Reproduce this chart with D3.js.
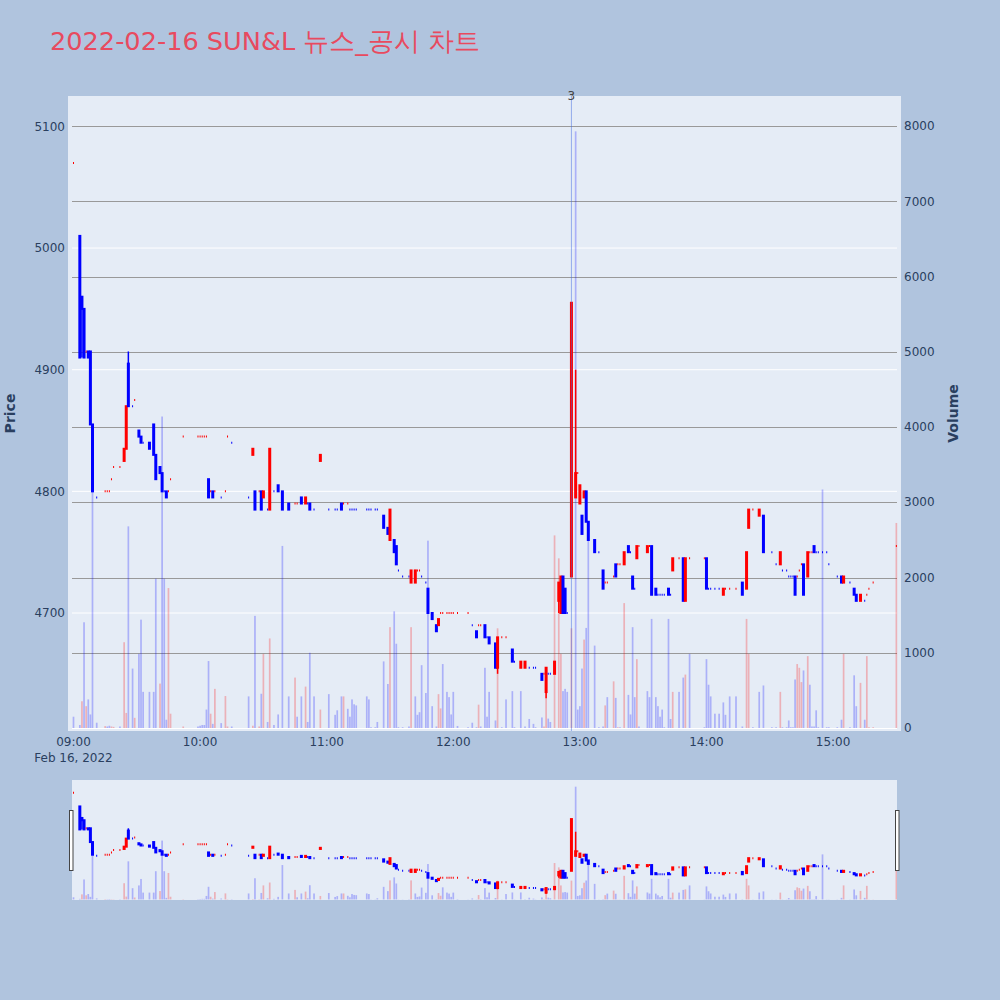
<!DOCTYPE html>
<html><head><meta charset="utf-8">
<script src="https://cdn.jsdelivr.net/npm/d3@7"></script>
<style>body{margin:0;background:#b0c4de;} svg{display:block;}</style>
</head><body><svg id="chart" width="1000" height="1000"></svg>
<script>
const chartTitle = "2022-02-16 SUN&L 뉴스_공시 차트";
const times = [
"09:00","09:03","09:04","09:05","09:06","09:07","09:08","09:09","09:11","09:15",
"09:16","09:17","09:18","09:19","09:22","09:24","09:25","09:26","09:28","09:29",
"09:31","09:32","09:33","09:36","09:38","09:39","09:41","09:42","09:43","09:44",
"09:45","09:46","09:52","09:59","10:00","10:01","10:02","10:03","10:04","10:05",
"10:06","10:07","10:10","10:12","10:13","10:15","10:23","10:25","10:26","10:28",
"10:29","10:30","10:32","10:33","10:35","10:37","10:39","10:42","10:45","10:46",
"10:48","10:50","10:51","10:52","10:54","10:57","11:01","11:04","11:05","11:07",
"11:08","11:10","11:11","11:12","11:13","11:14","11:19","11:20","11:21","11:23",
"11:24","11:27","11:29","11:30","11:32","11:33","11:34","11:36","11:39","11:40",
"11:42","11:43","11:44","11:45","11:47","11:48","11:50","11:52","11:53","11:54",
"11:55","11:57","11:58","11:59","12:00","12:02","12:07","12:09","12:11","12:12",
"12:13","12:15","12:16","12:17","12:20","12:21","12:23","12:25","12:28","12:29",
"12:32","12:34","12:36","12:38","12:39","12:42","12:43","12:44","12:45","12:46",
"12:48","12:50","12:51","12:52","12:53","12:54","12:56","12:58","12:59","13:00",
"13:01","13:02","13:03","13:04","13:07","13:09","13:11","13:12","13:13","13:16",
"13:17","13:18","13:19","13:21","13:23","13:24","13:25","13:26","13:27","13:28",
"13:32","13:33","13:34","13:36","13:37","13:38","13:39","13:40","13:42","13:43",
"13:44","13:47","13:49","13:50","13:52","13:59","14:00","14:01","14:02","14:04",
"14:06","14:08","14:09","14:11","14:14","14:17","14:19","14:20","14:22","14:25",
"14:27","14:31","14:33","14:35","14:36","14:38","14:39","14:40","14:41","14:42",
"14:43","14:44","14:45","14:46","14:48","14:49","14:50","14:51","14:52","14:53",
"14:55","14:57","14:58","15:02","15:04","15:05","15:08","15:10","15:11","15:13",
"15:15","15:16","15:17","15:19","15:30"];
const opens = [
5070,5010,4960,4950,4915,4915,4915,4855,4795,4800,
4800,4800,4810,4820,4820,4825,4835,4905,4870,4875,
4850,4845,4840,4840,4855,4830,4820,4815,4800,4800,
4800,4810,4845,4845,4845,4845,4845,4845,4810,4800,
4800,4800,4795,4800,4845,4840,4795,4830,4800,4800,
4800,4795,4785,4785,4800,4805,4800,4790,4790,4790,
4795,4790,4790,4790,4785,4825,4785,4785,4785,4790,
4790,4790,4785,4785,4785,4785,4785,4785,4785,4785,
4785,4780,4770,4760,4760,4755,4735,4730,4730,4725,
4725,4735,4735,4730,4725,4720,4700,4690,4690,4700,
4700,4700,4700,4700,4700,4700,4700,4690,4685,4690,
4690,4690,4680,4680,4675,4655,4680,4680,4670,4660,
4655,4655,4655,4655,4655,4650,4650,4635,4650,4650,
4650,4710,4700,4730,4720,4700,4730,4795,4815,4790,
4780,4795,4800,4775,4760,4750,4735,4725,4725,4730,
4740,4740,4740,4740,4755,4750,4730,4720,4745,4755,
4750,4755,4755,4720,4715,4715,4715,4715,4720,4715,
4735,4745,4745,4710,4745,4745,4745,4720,4720,4720,
4720,4715,4720,4720,4720,4725,4720,4770,4785,4780,
4780,4750,4740,4740,4735,4735,4730,4730,4730,4730,
4730,4735,4740,4740,4730,4750,4750,4755,4750,4750,
4750,4750,4740,4730,4730,4725,4725,4720,4715,4710,
4710,4715,4720,4725,4755];
const highs = [
5070,5010,4960,4950,4915,4915,4915,4855,4795,4800,
4800,4800,4810,4820,4820,4835,4870,4915,4870,4875,
4850,4845,4840,4840,4855,4830,4820,4815,4800,4800,
4800,4810,4845,4845,4845,4845,4845,4845,4810,4800,
4800,4800,4795,4800,4845,4840,4795,4835,4800,4800,
4800,4800,4785,4835,4800,4805,4800,4790,4790,4790,
4795,4795,4790,4790,4785,4830,4785,4785,4785,4790,
4790,4790,4785,4785,4785,4785,4785,4785,4785,4785,
4785,4780,4770,4785,4760,4755,4735,4730,4730,4735,
4735,4735,4735,4730,4725,4720,4700,4690,4695,4700,
4700,4700,4700,4700,4700,4700,4700,4690,4685,4690,
4690,4690,4680,4680,4675,4680,4680,4680,4670,4660,
4660,4660,4655,4655,4655,4650,4650,4655,4650,4650,
4660,4725,4730,4730,4720,4700,4955,4900,4815,4805,
4780,4800,4800,4775,4760,4750,4735,4725,4725,4730,
4740,4740,4740,4750,4755,4750,4730,4720,4755,4755,
4755,4755,4755,4720,4715,4715,4715,4715,4720,4715,
4745,4745,4745,4745,4745,4745,4745,4720,4720,4720,
4720,4720,4720,4720,4720,4725,4750,4785,4785,4785,
4780,4750,4740,4750,4735,4735,4730,4730,4730,4730,
4730,4735,4740,4740,4750,4750,4750,4755,4750,4750,
4750,4750,4740,4730,4730,4730,4725,4720,4715,4715,
4710,4715,4720,4725,4755];
const lows = [
5070,4910,4910,4910,4915,4910,4855,4800,4795,4800,
4800,4800,4810,4820,4820,4825,4835,4870,4870,4875,
4845,4840,4840,4835,4830,4810,4815,4800,4800,4795,
4800,4810,4845,4845,4845,4845,4845,4845,4795,4800,
4795,4800,4795,4800,4845,4840,4795,4830,4785,4800,
4785,4795,4785,4785,4800,4800,4785,4785,4790,4790,
4790,4790,4790,4785,4785,4825,4785,4785,4785,4785,
4790,4790,4785,4785,4785,4785,4785,4785,4785,4785,
4785,4770,4765,4760,4750,4740,4735,4730,4730,4725,
4725,4735,4735,4730,4725,4700,4695,4685,4690,4700,
4700,4700,4700,4700,4700,4700,4700,4690,4680,4690,
4690,4680,4680,4675,4655,4650,4680,4680,4660,4660,
4655,4655,4655,4655,4655,4645,4650,4630,4650,4650,
4650,4700,4700,4700,4700,4700,4730,4795,4815,4790,
4765,4795,4775,4760,4750,4750,4720,4725,4725,4730,
4730,4740,4740,4740,4750,4750,4720,4720,4745,4755,
4750,4755,4715,4715,4715,4715,4715,4715,4715,4715,
4735,4745,4710,4710,4745,4745,4720,4720,4720,4720,
4720,4715,4720,4720,4720,4715,4720,4770,4785,4780,
4750,4750,4740,4740,4735,4735,4730,4730,4730,4715,
4730,4735,4740,4715,4730,4750,4750,4750,4750,4750,
4750,4750,4740,4730,4725,4725,4725,4715,4710,4710,
4710,4715,4720,4725,4755];
const closes = [
5070,4910,4950,4910,4915,4910,4855,4800,4795,4800,
4800,4800,4810,4820,4820,4835,4870,4870,4870,4875,
4845,4840,4840,4835,4830,4810,4815,4800,4800,4795,
4800,4810,4845,4845,4845,4845,4845,4845,4795,4800,
4795,4800,4795,4800,4845,4840,4795,4835,4785,4800,
4785,4800,4785,4835,4800,4800,4785,4785,4790,4790,
4790,4795,4790,4785,4785,4830,4785,4785,4785,4785,
4790,4790,4785,4785,4785,4785,4785,4785,4785,4785,
4785,4770,4765,4785,4750,4740,4735,4730,4730,4735,
4735,4735,4735,4730,4725,4700,4695,4685,4695,4700,
4700,4700,4700,4700,4700,4700,4700,4690,4680,4690,
4690,4680,4680,4675,4655,4680,4680,4680,4660,4660,
4660,4660,4655,4655,4655,4645,4650,4655,4650,4650,
4660,4725,4730,4700,4700,4700,4955,4815,4815,4805,
4765,4800,4775,4760,4750,4750,4720,4725,4725,4730,
4730,4740,4740,4750,4750,4750,4720,4720,4755,4755,
4755,4755,4715,4715,4715,4715,4715,4715,4715,4715,
4745,4745,4710,4745,4745,4745,4720,4720,4720,4720,
4720,4720,4720,4720,4720,4715,4750,4785,4785,4785,
4750,4750,4740,4750,4735,4735,4730,4730,4730,4715,
4730,4735,4740,4715,4750,4750,4750,4750,4750,4750,
4750,4750,4740,4730,4725,4730,4725,4715,4710,4715,
4710,4715,4720,4725,4755];
const volumes = [
150,40,355,1405,290,380,180,3145,70,25,
20,30,20,15,20,1140,200,2680,790,135,
985,1440,480,480,480,1985,590,4140,1985,110,
1860,190,20,20,30,40,40,245,890,190,
55,520,65,425,20,20,420,30,1490,20,
455,985,80,1190,40,180,2420,420,670,150,
420,550,80,1000,420,245,450,175,235,420,
420,255,150,380,315,300,420,380,10,10,
80,885,585,1340,1550,1120,10,10,20,1340,
420,175,210,835,465,2490,290,20,450,260,
850,480,410,180,480,27,10,70,10,310,
20,800,150,480,100,1325,10,380,490,10,
490,20,120,55,10,140,20,790,125,80,
2560,2255,985,490,520,480,1325,7930,245,290,
790,1175,1330,2500,1095,10,20,300,410,620,
400,10,10,1660,440,180,1340,410,915,20,
490,410,1450,410,290,150,245,10,1450,120,
480,480,670,710,985,10,915,575,420,190,
190,340,175,420,420,20,1450,985,10,480,
565,10,10,480,10,10,100,10,10,645,
850,800,610,765,955,575,20,20,235,10,
3170,10,10,10,110,985,10,700,290,600,
110,955,10,10,2725];
const priceTicks = [4700, 4800, 4900, 5000, 5100];
const volumeTicks = [0, 1000, 2000, 3000, 4000, 5000, 6000, 7000, 8000];
const timeTicks = ["09:00","10:00","11:00","12:00","13:00","14:00","15:00"];
const newsTimes = ["12:56"];
const newsLabels = ["3"];

const parseT = s => { const [h, m] = s.split(":").map(Number); return new Date(2022, 1, 16, h, m); };
const MIN = 60000;
const t0 = parseT("09:00");

const data = times.map((t, i) => ({t: parseT(t), o: opens[i], h: highs[i], l: lows[i], c: closes[i], v: volumes[i]}));
data.forEach((d, i) => {
  let inc;
  if (d.c > d.o) inc = true;
  else if (d.c < d.o) inc = false;
  else {
    const pc = i > 0 ? data[i-1].c : null;
    if (pc !== null && d.c !== pc) inc = d.c > pc;
    else inc = i > 0 ? data[i-1].inc : true;
  }
  d.inc = inc;
  d.volUp = i > 0 && d.c > data[i-1].c;
});

const svg = d3.select("#chart");
const FONT = "'DejaVu Sans', Verdana, sans-serif";
const TXT = "#2a3f5f";
const INC = "#ff0000", DEC = "#0000ff";

const xDomain = [new Date(+t0 - 2.607*MIN), new Date(+t0 + 392.2*MIN)];
const x = d3.scaleTime().domain(xDomain).range([68, 901]);
const yP = d3.scaleLinear().domain([4603, 5125]).range([731, 96]);
const yV = d3.scaleLinear().domain([-40, 8400]).range([731, 96]);
const yP2 = d3.scaleLinear().domain([4603, 5125]).range([900, 780]);
const yV2 = d3.scaleLinear().domain([-40, 8400]).range([900, 780]);

// title
svg.append("text").attr("x", 50).attr("y", 50).attr("font-family", FONT)
  .attr("font-size", 25.6).attr("fill", "#e84a5f").text(chartTitle);

// main plot background
svg.append("rect").attr("x", 68).attr("y", 96).attr("width", 833).attr("height", 635).attr("fill", "#e5ecf6");

const defs = svg.append("defs");
defs.append("clipPath").attr("id", "clipMain").append("rect").attr("x", 68).attr("y", 96).attr("width", 833).attr("height", 635);
defs.append("clipPath").attr("id", "clipMini").append("rect").attr("x", 72).attr("y", 780).attr("width", 825).attr("height", 120);

// price gridlines (white)
svg.append("g").selectAll("line").data(priceTicks).join("line")
  .attr("x1", 72).attr("x2", 897).attr("y1", d => yP(d)).attr("y2", d => yP(d))
  .attr("stroke", "#ffffff").attr("stroke-width", 1);
// volume gridlines (gray)
svg.append("g").selectAll("line").data(volumeTicks).join("line")
  .attr("x1", 72).attr("x2", 897).attr("y1", d => Math.round(yV(d)) + 0.5).attr("y2", d => Math.round(yV(d)) + 0.5)
  .attr("stroke", d => d === 0 ? "#ffffff" : "#999999").attr("stroke-width", 1);

function drawMarks(g, xs, yp, yv) {
  g.append("g").selectAll("rect").data(data).join("rect")
    .attr("x", d => xs(d.t) - 0.85).attr("width", 1.7)
    .attr("y", d => yv(d.v)).attr("height", d => Math.max(0, yv(0) - yv(d.v)))
    .attr("fill", d => d.volUp ? "rgba(255,0,0,0.25)" : "rgba(0,0,255,0.25)");
  const cg = g.append("g");
  cg.selectAll("line").data(data).join("line")
    .attr("x1", d => xs(d.t)).attr("x2", d => xs(d.t))
    .attr("y1", d => yp(d.h)).attr("y2", d => yp(d.l))
    .attr("stroke", d => d.inc ? INC : DEC).attr("stroke-width", 1.5);
  cg.selectAll("path").data(data).join("path")
    .attr("d", d => {
      const cx = xs(d.t), y1 = yp(Math.max(d.o, d.c)), y2 = yp(Math.min(d.o, d.c));
      return `M${cx - 0.5},${y1}H${cx + 0.5}V${y2}H${cx - 0.5}Z`;
    })
    .attr("fill", d => d.inc ? INC : DEC)
    .attr("stroke", d => d.inc ? INC : DEC).attr("stroke-width", 2)
    .attr("stroke-linejoin", "miter");
}

const main = svg.append("g").attr("clip-path", "url(#clipMain)");
drawMarks(main, x, yP, yV);

// news marker
newsTimes.forEach((nt, i) => {
  const nx = x(parseT(nt));
  main.append("line").attr("x1", nx).attr("x2", nx).attr("y1", 96).attr("y2", 731)
    .attr("stroke", "rgba(65,105,225,0.5)").attr("stroke-width", 1);
  svg.append("text").attr("x", nx).attr("y", 100).attr("text-anchor", "middle")
    .attr("font-family", FONT).attr("font-size", 12).attr("fill", "#444").text(newsLabels[i]);
});

// axes labels
svg.append("g").selectAll("text").data(priceTicks).join("text")
  .attr("x", 65).attr("y", d => yP(d)).attr("dy", "0.35em").attr("text-anchor", "end")
  .attr("font-family", FONT).attr("font-size", 12).attr("fill", TXT).text(d => d);
svg.append("g").selectAll("text").data(volumeTicks).join("text")
  .attr("x", 904).attr("y", d => yV(d)).attr("dy", "0.35em").attr("text-anchor", "start")
  .attr("font-family", FONT).attr("font-size", 12).attr("fill", TXT).text(d => d);
const fmt = d3.timeFormat("%H:%M");
svg.append("g").selectAll("text").data(timeTicks.map(parseT)).join("text")
  .attr("x", d => x(d)).attr("y", 746).attr("text-anchor", "middle")
  .attr("font-family", FONT).attr("font-size", 12).attr("fill", TXT).text(d => fmt(d));
svg.append("text").attr("x", x(t0)).attr("y", 762).attr("text-anchor", "middle")
  .attr("font-family", FONT).attr("font-size", 12).attr("fill", TXT).text(d3.timeFormat("%b %-d, %Y")(t0));

svg.append("text").attr("transform", "translate(15,413.5) rotate(-90)").attr("text-anchor", "middle")
  .attr("font-family", FONT).attr("font-size", 14).attr("font-weight", "bold").attr("fill", TXT).text("Price");
svg.append("text").attr("transform", "translate(958,413.5) rotate(-90)").attr("text-anchor", "middle")
  .attr("font-family", FONT).attr("font-size", 14).attr("font-weight", "bold").attr("fill", TXT).text("Volume");

// range slider
svg.append("rect").attr("x", 72).attr("y", 780).attr("width", 825).attr("height", 120).attr("fill", "#e5ecf6");
const mini = svg.append("g").attr("clip-path", "url(#clipMini)");
drawMarks(mini, x, yP2, yV2);
[69.5, 895.5].forEach(hx => {
  svg.append("rect").attr("x", hx).attr("y", 810.5).attr("width", 3.5).attr("height", 60)
    .attr("fill", "#ffffff").attr("stroke", "#444").attr("stroke-width", 1);
});
</script></body></html>
